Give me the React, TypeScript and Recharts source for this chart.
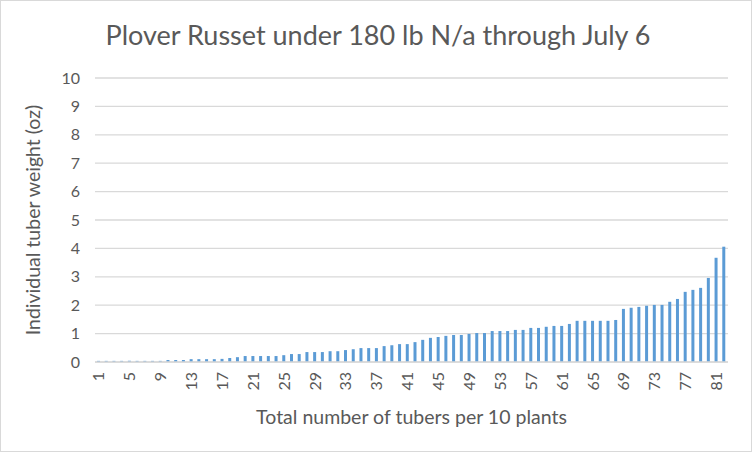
import React from 'react';
import { BarChart, Bar, XAxis, YAxis, CartesianGrid } from 'recharts';

const categories = [
  1, 2, 3, 4, 5, 6, 7, 8, 9, 10, 11, 12, 13, 14, 15, 16, 17, 18, 19, 20,
  21, 22, 23, 24, 25, 26, 27, 28, 29, 30, 31, 32, 33, 34, 35, 36, 37, 38, 39, 40,
  41, 42, 43, 44, 45, 46, 47, 48, 49, 50, 51, 52, 53, 54, 55, 56, 57, 58, 59, 60,
  61, 62, 63, 64, 65, 66, 67, 68, 69, 70, 71, 72, 73, 74, 75, 76, 77, 78, 79, 80,
  81, 82,
];

const weights = [
  0.04, 0.04, 0.04, 0.04, 0.04, 0.04, 0.04, 0.04, 0.04, 0.07,
  0.07, 0.07, 0.1, 0.1, 0.1, 0.1, 0.11, 0.14, 0.17, 0.21,
  0.21, 0.21, 0.21, 0.21, 0.24, 0.28, 0.28, 0.35, 0.35, 0.35,
  0.38, 0.38, 0.42, 0.45, 0.49, 0.49, 0.49, 0.56, 0.59, 0.63,
  0.63, 0.7, 0.78, 0.85, 0.88, 0.92, 0.95, 0.95, 0.99, 1.02,
  1.02, 1.09, 1.09, 1.09, 1.13, 1.13, 1.2, 1.2, 1.24, 1.27,
  1.27, 1.34, 1.45, 1.45, 1.45, 1.45, 1.45, 1.48, 1.87, 1.91,
  1.94, 1.98, 2.01, 2.01, 2.12, 2.22, 2.47, 2.54, 2.61, 2.96,
  3.67, 4.06,
];

const yTicks = [0, 1, 2, 3, 4, 5, 6, 7, 8, 9, 10];

const titleText = 'Plover Russet under 180 lb N/a through July 6';
const xLabel = 'Total number of tubers per 10 plants';
const yLabel = 'Individual tuber weight (oz)';

const data = categories.map((c, i) => ({ n: String(c), w: weights[i] }));

const FONT = 'Lato, "Open Sans", sans-serif';
const TEXT = '#595959';

const XTick = (props: any) => {
  const { x, y, payload } = props;
  return (
    <g transform={`translate(${x},${y})`}>
      <text
        transform="rotate(-90)"
        textAnchor="end"
        dy="0.35em"
        fill={TEXT}
        fontSize={16}
        fontFamily={FONT}
      >
        {payload.value}
      </text>
    </g>
  );
};

export default function App() {
  return (
    <div
      style={{
        position: 'absolute',
        left: 0,
        top: 0,
        width: 752,
        height: 452,
        background: '#fff',
        fontFamily: FONT,
      }}
    >
      <div
        style={{
          position: 'absolute',
          left: 0,
          top: 0,
          width: 750,
          height: 450,
          border: '1px solid #d9d9d9',
        }}
      />
      <div
        style={{
          position: 'absolute',
          left: 2,
          top: 18,
          width: 752,
          textAlign: 'center',
          fontSize: 27,
          color: TEXT,
          fontFamily: FONT,
          lineHeight: '34px',
        }}
      >
        {titleText}
      </div>
      <BarChart
        width={752}
        height={452}
        data={data}
        margin={{ top: 78, right: 24, bottom: 0, left: 0 }}
        barSize={3}
      >
        <CartesianGrid vertical={false} stroke="#d9d9d9" strokeWidth={1.3} />
        <XAxis
          dataKey="n"
          interval={3}
          tickSize={0}
          tickMargin={10}
          tick={<XTick />}
          axisLine={{ stroke: '#d9d9d9', strokeWidth: 1.3 }}
          tickLine={false}
          height={90}
          label={{
            value: xLabel,
            position: 'insideBottom',
            offset: 28,
            fill: TEXT,
            fontSize: 19.5,
            fontFamily: FONT,
          }}
        />
        <YAxis
          domain={[0, 10]}
          ticks={yTicks}
          width={95}
          tickSize={0}
          tickMargin={15}
          axisLine={false}
          tickLine={false}
          tick={{ fill: TEXT, fontSize: 16, fontFamily: FONT }}
          label={{
            value: yLabel,
            angle: -90,
            position: 'insideLeft',
            offset: 33,
            style: { textAnchor: 'middle' },
            fill: TEXT,
            fontSize: 19.5,
            fontFamily: FONT,
          }}
        />
        <Bar dataKey="w" fill="#5b9bd5" isAnimationActive={false} />
      </BarChart>
    </div>
  );
}
